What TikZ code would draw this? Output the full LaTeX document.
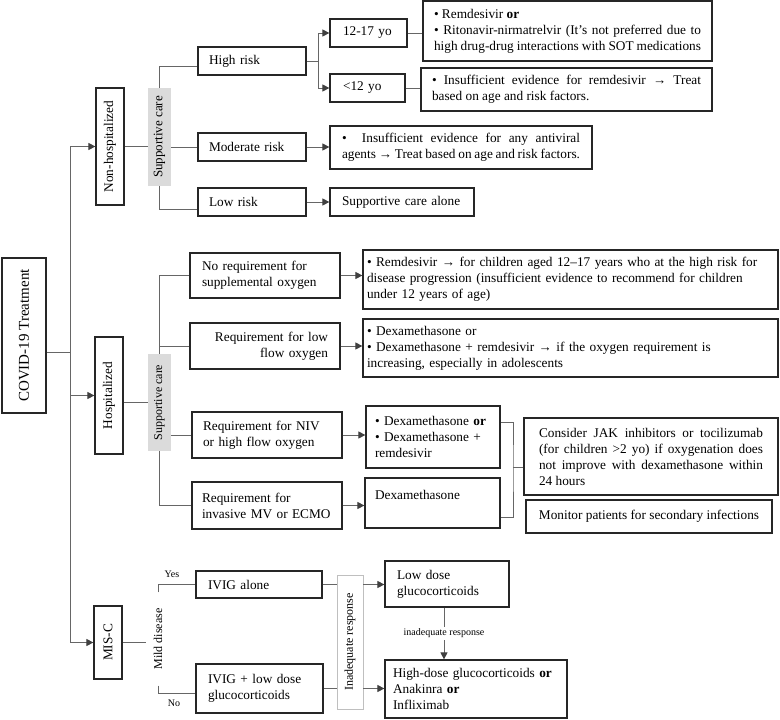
\documentclass[tikz,border=0pt]{standalone}
\usepackage{fontspec}
\setmainfont{Liberation Serif}
\usepackage{tikz}
\usetikzlibrary{shapes.geometric, arrows.meta, positioning}
\tikzstyle{box} = [rectangle, draw=black!85, line width=1.2pt, fill=white, inner sep=0pt, align=left, font=\fontsize{13.3}{16}\selectfont]
\tikzstyle{vbox} = [box, rotate=90, align=center]
\tikzstyle{bar} = [rectangle, fill=black!14, rotate=90, inner sep=0pt, font=\fontsize{12}{14}\selectfont]
\tikzstyle{line} = [line width=0.9pt, draw=black!60]
\tikzstyle{arrow} = [line, -{Triangle[length=7pt, width=7pt, color=black!75]}]

\begin{document}
\begin{tikzpicture}[x=1pt, y=-1pt]
\useasboundingbox (0,0) rectangle (780,720);

\node (covid) [vbox, minimum width=155pt, minimum height=44pt, font=\fontsize{15}{17}\selectfont] at (24,335.5) {COVID-19 Treatment};
\node (nonhosp) [vbox, minimum width=117pt, minimum height=28pt] at (110,146.5) {Non-hospitalized};
\node (hosp) [vbox, minimum width=117pt, minimum height=28pt] at (109,395.5) {Hospitalized};
\node (misc) [vbox, minimum width=73pt, minimum height=28pt] at (108,642.5) {MIS-C};

\node (care1) [bar, minimum width=98pt, minimum height=23pt, font=\fontsize{13}{15}\selectfont] at (159.5,137) {Supportive care};
\node (care2) [bar, minimum width=97pt, minimum height=23pt] at (159.5,402.5) {Supportive care};

\node (high) [box, minimum width=108pt, minimum height=28pt, text width=86pt] at (252,61) {High risk};
\node (moderate) [box, minimum width=108pt, minimum height=28pt, text width=86pt] at (252,147) {Moderate risk};
\node (low) [box, minimum width=108pt, minimum height=28pt, text width=86pt] at (252,202) {Low risk};
\node (age1) [box, minimum width=77pt, minimum height=28pt, text width=51pt] at (368.5,33) {12-17 yo};
\node (age2) [box, minimum width=75pt, minimum height=28pt, text width=49pt] at (367.5,88) {<12 yo};
\node (treat1) [box, align=justify, minimum width=289pt, minimum height=60pt, text width=267pt] at (567.5,31) {\textbullet{} Remdesivir \textbf{or}\\\textbullet{} Ritonavir-nirmatrelvir (It's not preferred due to\linebreak high drug-drug interactions with SOT medications};
\node (treat2) [box, align=justify, minimum width=291pt, minimum height=43pt, text width=269pt] at (566.5,89.5) {\textbullet{} Insufficient evidence for remdesivir → Treat\linebreak based on age and risk factors.};
\node (treat3) [box, align=justify, minimum width=262pt, minimum height=43pt, text width=238pt] at (461,147.5) {\textbullet{}\ \ Insufficient evidence for any antiviral\linebreak agents → Treat based on age and risk factors.};
\node (treat4) [box, minimum width=144pt, minimum height=28pt, text width=120pt] at (402,202) {Supportive care alone};

\node (noreq) [box, minimum width=150pt, minimum height=45pt, text width=126pt] at (265,275.5) {No requirement for\\supplemental oxygen};
\node (lowflow) [box, align=right, minimum width=150pt, minimum height=46pt, text width=126pt] at (265,346) {Requirement for low\\flow oxygen};
\node (niv) [box, minimum width=150pt, minimum height=46pt, text width=128pt] at (267,435) {Requirement for NIV\\or high flow oxygen};
\node (imv) [box, minimum width=150pt, minimum height=47pt, text width=130pt] at (267,505.5) {Requirement for\\invasive MV or ECMO};
\node (rnoreq) [box, minimum width=415pt, minimum height=59pt, text width=407pt] at (570.5,279.5) {\textbullet{} Remdesivir → for children aged 12–17 years who at the high risk for\\disease progression (insufficient evidence to recommend for children\\under 12 years of age)};
\node (rlowflow) [box, minimum width=415pt, minimum height=58pt, text width=407pt] at (570.5,348) {\textbullet{} Dexamethasone or\\\textbullet{} Dexamethasone + remdesivir → if the oxygen requirement is\\increasing, especially in adolescents};
\node (rniv) [box, minimum width=134pt, minimum height=62pt, text width=116pt] at (433,437) {\textbullet{} Dexamethasone \textbf{or}\\\textbullet{} Dexamethasone +\\remdesivir};
\node (rimv) [box, minimum width=135pt, minimum height=50pt, text width=115pt] at (432.5,503) {Dexamethasone\\~};
\node (jak) [box, align=justify, minimum width=254pt, minimum height=77pt, text width=224pt] at (651,456.5) {Consider JAK inhibitors or tocilizumab\linebreak (for children >2 yo) if oxygenation does\linebreak not improve with dexamethasone within\linebreak 24 hours};
\node (monitor) [box, align=center, minimum width=246pt, minimum height=33pt] at (649,516.5) {Monitor patients for secondary infections};

\node (mild) [rotate=90, inner xsep=16pt, inner ysep=8pt, font=\fontsize{12}{14}\selectfont] at (158,639) {Mild disease};
\node (yes) [font=\fontsize{10}{12}\selectfont] at (172,574) {Yes};
\node (no) [font=\fontsize{10}{12}\selectfont] at (174,703) {No};
\node (ivig) [box, minimum width=126pt, minimum height=27pt, text width=102pt] at (259,584.5) {IVIG alone};
\node (ivigl) [box, minimum width=127pt, minimum height=49pt, text width=103pt] at (259.5,688.5) {IVIG + low dose\\glucocorticoids};
\node (inadeq) [bar, fill=white, draw=black!25, line width=0.8pt, minimum width=134pt, minimum height=26pt] at (350,642) {Inadequate response};
\node (lowgc) [box, minimum width=124pt, minimum height=46pt, text width=100pt] at (447,584) {Low dose\\glucocorticoids};
\node (highgc) [box, minimum width=182pt, minimum height=58pt, text width=166pt] at (476,689) {High-dose glucocorticoids \textbf{or}\\Anakinra \textbf{or}\\Infliximab};

\coordinate (trunk) at (70,352);
\draw [line] (covid.south |- trunk) -- (trunk);
\draw [arrow] (trunk) |- (nonhosp.north);
\draw [arrow] (trunk) |- (hosp.north);
\draw [arrow] (trunk) |- (misc.north);

\draw [line] (nonhosp.south) -- (nonhosp.south -| care1.north);
\draw [line] (care1.east) |- ([yshift=-5pt]high.west);
\draw [line] (care1.south |- moderate.west) -- (moderate.west);
\draw [line] (care1.west) |- ([yshift=-7pt]low.west);
\draw [arrow] (high.east) -- ++(12,0) |- (age1.west);
\draw [arrow] (high.east) -- ++(12,0) |- (age2.west);
\draw [line] (age1.east) -- (age1.east -| treat1.west);
\draw [line] (age2.east) -- (age2.east -| treat2.west);
\draw [arrow] (moderate.east) -- (moderate.east -| treat3.west);
\draw [arrow] (low.east) -- (treat4.west);

\draw [line] (hosp.south |- care2.north) -- (care2.north);
\draw [line] (care2.east) |- (noreq.west);
\draw [line] (care2.east) |- (lowflow.west);
\draw [line] (care2.south |- niv.west) -- (niv.west);
\draw [line] (care2.west) |- (imv.west);
\draw [arrow] (noreq.east) -- (noreq.east -| rnoreq.west);
\draw [arrow] (lowflow.east) -- (lowflow.east -| rlowflow.west);
\draw [arrow] (niv.east) -- (niv.east -| rniv.west);
\draw [arrow] (imv.east) -- (imv.east -| rimv.west);
\coordinate (join) at (513,467);
\draw [line] ([yshift=15pt]rniv.east) -| (join) |- ([yshift=-14pt]rimv.east);
\draw [line] (join) -- (join -| jak.west);

\draw [line] (misc.south) -- (misc.south -| mild.north);
\draw [line] (mild.east) |- (ivig.west);
\draw [line] (mild.west) |- ([yshift=-4.5pt]ivigl.west);
\draw [line] (ivig.east) -- (ivig.east -| inadeq.north);
\draw [line] (ivigl.east) -- (ivigl.east -| inadeq.north);
\draw [arrow] (ivig.east -| inadeq.south) -- (ivig.east -| lowgc.west);
\draw [arrow] (ivigl.east -| inadeq.south) -- (ivigl.east -| highgc.west);
\draw [arrow] ([xshift=-3pt]lowgc.south) -- ([xshift=-3pt]lowgc.south |- highgc.north) node [midway, fill=white, inner sep=2pt, font=\fontsize{10}{12}\selectfont] {inadequate response};

\end{tikzpicture}
\end{document}
